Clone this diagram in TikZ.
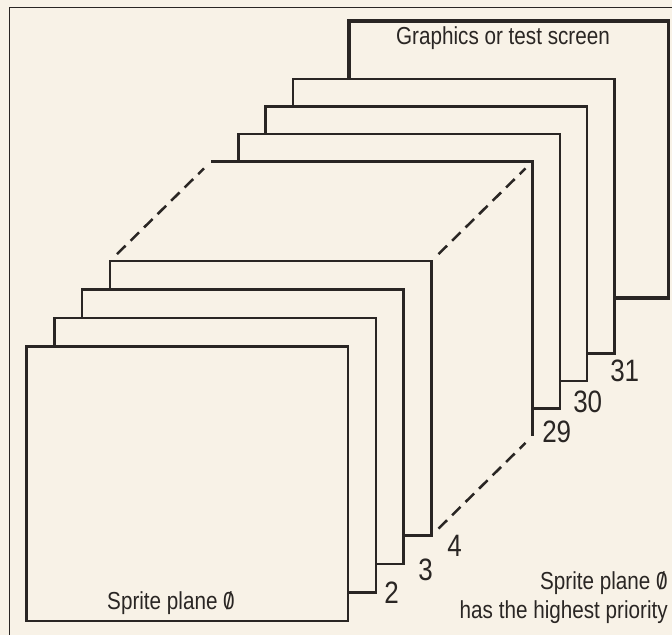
\documentclass[tikz,border=0pt]{standalone}
\usepackage{fontspec}
\setmainfont{Liberation Sans}[FakeStretch=0.84]
\usetikzlibrary{calc}
\definecolor{paper}{RGB}{248,242,231}
\definecolor{ink}{RGB}{42,38,36}
\tikzset{every node/.append style={font=\fontsize{17.5}{20}\selectfont, text=ink, inner sep=0pt}}
\tikzset{
  plane/.style={draw=ink, fill=paper, line width=1.8pt},
  hidden/.style={draw=ink, line width=1.8pt, dash pattern=on 8.5pt off 5pt, shorten <=7pt, shorten >=7pt},
  num/.style={font=\fontsize{22}{24}\selectfont, anchor=base west},
}
\newcommand{\slzero}{\ooalign{0\cr\hidewidth/\hidewidth\cr}}

\begin{document}
\begin{tikzpicture}[x=0.025cm, y=-0.025cm]
    \useasboundingbox (0,0) rectangle (672,635);
    \fill[paper] (0,0) rectangle (672,635);
    \draw[ink, line width=0.9pt] (9.4,635) -- (9.4,7.3) -- (672,7.3);
    % screen at the back
    \filldraw[plane, line width=2.6pt] (349.3,20.7) rectangle (668.6,298.3);
    \node[anchor=base] (screen) at (503,45) {Graphics or test screen};
    % planes 31, 30, 29
    \foreach \j in {3,2,1}
        \filldraw[plane] ({211+27.3*\j},{161.5-27.5*\j}) rectangle +(321.5,274.5);
    % plane 28, open on the left and at the bottom
    \coordinate (p28nw) at (211,161.5);
    \coordinate (p28ne) at (532.5,161.5);
    \coordinate (p28se) at (532.5,436);
    \fill[paper] (p28nw) rectangle (p28se);
    \draw[ink, line width=1.8pt] (p28nw) -- (p28ne) -- (p28se);
    % the planes left out
    \coordinate (p4nw) at (110,261);
    \coordinate (p4ne) at (431.5,261);
    \coordinate (p4se) at (431.5,535.5);
    \draw[hidden] (p4nw) -- (p28nw);
    \draw[hidden] (p4ne) -- (p28ne);
    \draw[hidden] (p4se) -- (p28se);
    % planes 4, 3, 2 and 0 in front
    \foreach \i in {3,2,1,0}
        \filldraw[plane] ({26.6+27.8*\i},{346.5-28.5*\i}) rectangle +(321.5,274.5);
    \node[anchor=base] (front) at (171,610) {Sprite plane \slzero};
    \node[num] (n31) at (610,382) {31};
    \node[num] (n30) at (573,413) {30};
    \node[num] (n29) at (542,443) {29};
    \node[num] (n4) at (447,557) {4};
    \node[num] (n3) at (418,581) {3};
    \node[num] (n2) at (384,604) {2};
    \node[anchor=base east] (prio) at (668,589) {Sprite plane \slzero};
    \node[anchor=base east] (prio2) at (668,619) {has the highest priority};
\end{tikzpicture}
\end{document}
